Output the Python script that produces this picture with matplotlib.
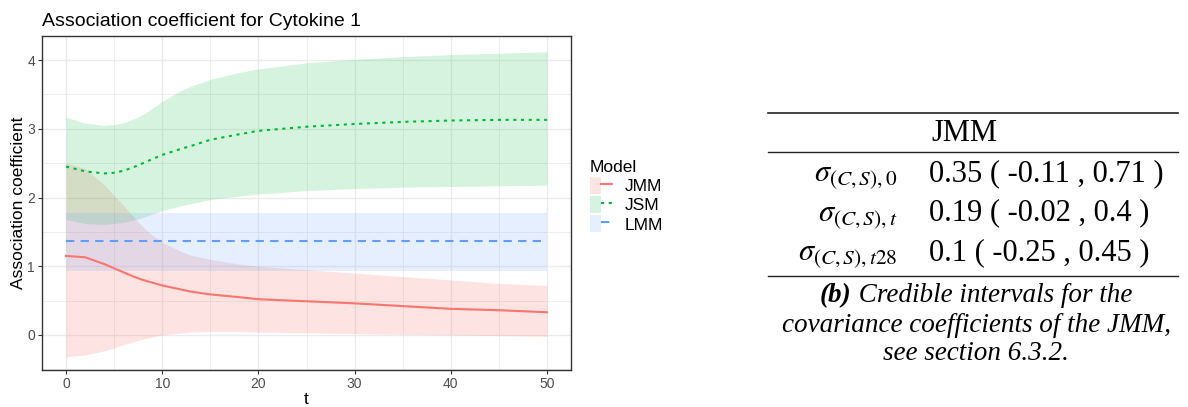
import numpy as np
import matplotlib.pyplot as plt
from matplotlib.patches import Patch
from matplotlib.lines import Line2D
from matplotlib.legend_handler import HandlerTuple
from matplotlib.ticker import MultipleLocator

plt.rcParams['font.family'] = ['Liberation Sans', 'DejaVu Sans']
plt.rcParams['mathtext.fontset'] = 'stix'

# time grid for the association curves
t = [0, 2, 4, 5, 6, 7, 8, 9, 10, 12, 13, 15, 18, 20, 25, 30, 35, 40, 45, 50]

jmm_mean = [1.15, 1.13, 1.03, 0.97, 0.91, 0.85, 0.80, 0.76, 0.72, 0.66, 0.63, 0.59, 0.55, 0.52, 0.49, 0.46, 0.42, 0.38, 0.36, 0.33]
jmm_low = [-0.32, -0.29, -0.23, -0.19, -0.14, -0.10, -0.06, -0.03, 0.00, 0.03, 0.04, 0.05, 0.05, 0.04, 0.03, 0.02, 0.01, 0.00, -0.01, -0.02]
jmm_high = [2.50, 2.42, 2.18, 2.03, 1.88, 1.72, 1.57, 1.45, 1.35, 1.21, 1.16, 1.10, 1.03, 1.00, 0.95, 0.90, 0.85, 0.80, 0.75, 0.72]

jsm_mean = [2.45, 2.38, 2.35, 2.36, 2.39, 2.44, 2.50, 2.56, 2.62, 2.71, 2.75, 2.84, 2.92, 2.97, 3.03, 3.07, 3.10, 3.12, 3.13, 3.13]
jsm_low = [1.68, 1.62, 1.61, 1.62, 1.64, 1.67, 1.71, 1.76, 1.81, 1.88, 1.91, 1.97, 2.02, 2.05, 2.10, 2.13, 2.15, 2.16, 2.17, 2.18]
jsm_high = [3.17, 3.08, 3.05, 3.06, 3.09, 3.14, 3.21, 3.30, 3.40, 3.56, 3.62, 3.72, 3.82, 3.87, 3.96, 4.01, 4.05, 4.08, 4.10, 4.12]

lmm_mean = 1.36
lmm_low = 0.93
lmm_high = 1.78

models = ['JMM', 'JSM', 'LMM']
colors = ['#F8766D', '#00BA38', '#619CFF']
fill_alpha = [0.2, 0.16, 0.16]
styles = ['-', (0, (1.5, 2.2)), (0, (4, 3))]

# table of covariance coefficients
row_labels = [r'$\sigma_{(C,S),0}$', r'$\sigma_{(C,S),t}$', r'$\sigma_{(C,S),t28}$']
row_values = ['0.35 ( -0.11 , 0.71 )', '0.19 ( -0.02 , 0.4 )', '0.1 ( -0.25 , 0.45 )']

W, H = 1188, 407
fig = plt.figure(figsize=(W / 100, H / 100), dpi=100)
ax = fig.add_axes([42 / W, 1 - 370 / H, (571 - 42) / W, (370 - 36) / H])

lmm_t = [t[0], t[-1]]
bands = [
    (t, jmm_low, jmm_high, jmm_mean),
    (t, jsm_low, jsm_high, jsm_mean),
    (lmm_t, [lmm_low] * 2, [lmm_high] * 2, [lmm_mean] * 2),
]
for (x, lo, hi, m), c, a in zip(bands, colors, fill_alpha):
    ax.fill_between(x, lo, hi, color=c, alpha=a, linewidth=0, zorder=1)
for (x, lo, hi, m), c, ls in zip(bands, colors, styles):
    ax.plot(x, m, color=c, linestyle=ls, linewidth=1.5, zorder=3)

ax.set_xlim(-2.5, 52.5)
ax.set_ylim(-0.51, 4.35)
ax.xaxis.set_major_locator(MultipleLocator(10))
ax.xaxis.set_minor_locator(MultipleLocator(5))
ax.yaxis.set_major_locator(MultipleLocator(1))
ax.yaxis.set_minor_locator(MultipleLocator(0.5))
ax.grid(which='major', color='#EBEBEB', linewidth=1.0, zorder=0)
ax.grid(which='minor', color='#EBEBEB', linewidth=0.6, zorder=0)
ax.set_axisbelow(True)
for s in ax.spines.values():
    s.set_color('#333333')
    s.set_linewidth(1.0)
ax.tick_params(which='major', length=3, color='#333333', labelcolor='#4D4D4D', labelsize=10, pad=2)
ax.tick_params(which='minor', length=0)
ax.set_xlabel('t', fontsize=12.5, labelpad=1)
ax.set_ylabel('Association coefficient', fontsize=12.5, labelpad=1)
ax.set_title('Association coefficient for Cytokine 1', fontsize=14, loc='left', x=0, pad=7)

handles = []
for c, a, ls in zip(colors, fill_alpha, styles):
    handles.append((Patch(facecolor=c, alpha=a, edgecolor='none'),
                    Line2D([], [], color=c, linestyle=ls, linewidth=1.5)))
leg = fig.legend(handles, models, title='Model', loc='upper left',
                 bbox_to_anchor=(590 / W, 1 - 160 / H), frameon=False,
                 handler_map={tuple: HandlerTuple(ndivide=None, pad=0)},
                 fontsize=12.5, title_fontsize=12.5, handlelength=1.25, handleheight=1.15,
                 handletextpad=0.75, labelspacing=0.1, borderpad=0, borderaxespad=0)
leg._legend_box.align = 'left'

# table on the right side
tx0, tx1 = 768 / W, 1178 / W
for yy, lw in [(113, 1.2), (152, 1.0), (276, 1.0)]:
    fig.add_artist(Line2D([tx0, tx1], [1 - yy / H] * 2, color='#222222', linewidth=lw))
serif = ['Liberation Serif', 'DejaVu Serif']
fig.text(964 / W, 1 - 141 / H, 'JMM', ha='center', va='baseline', fontsize=22, family=serif)
for i, (lab, val) in enumerate(zip(row_labels, row_values)):
    y = 1 - (181 + 39.5 * i) / H
    fig.text(897 / W, y, lab, ha='right', va='baseline', fontsize=22, family=serif)
    fig.text(929 / W, y, val, ha='left', va='baseline', fontsize=22, family=serif)

# caption, first word in bold italic
cap_size = 19.5
cx = 976 / W
r = fig.canvas.get_renderer()
t1 = fig.text(0, 1 - 296 / H, '(b)', ha='left', va='center', fontsize=cap_size,
              family=serif, style='italic', weight='bold')
t2 = fig.text(0, 1 - 296 / H, ' Credible intervals for the', ha='left', va='center',
              fontsize=cap_size, family=serif, style='italic')
w1 = t1.get_window_extent(r).width / W
w2 = t2.get_window_extent(r).width / W
t1.set_x(cx - (w1 + w2) / 2)
t2.set_x(cx - (w1 + w2) / 2 + w1)
fig.text(cx, 1 - 325 / H, 'covariance coefficients of the JMM,', ha='center', va='center',
         fontsize=cap_size, family=serif, style='italic')
fig.text(cx, 1 - 354 / H, 'see section 6.3.2.', ha='center', va='center',
         fontsize=cap_size, family=serif, style='italic')

fig.savefig('out.png', dpi=100)
